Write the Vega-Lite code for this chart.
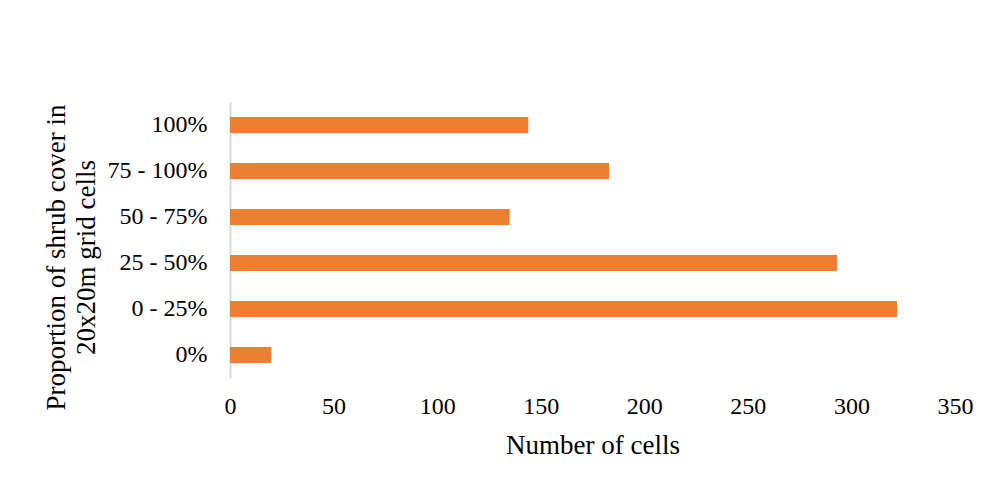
{
  "$schema": "https://vega.github.io/schema/vega-lite/v6.json",
  "autosize": "none",
  "width": 725,
  "height": 276,
  "padding": {"left": 230, "top": 102, "right": 33, "bottom": 108},
  "background": "white",
  "data": {
    "values": [
      {"cover": "100%", "cells": 144},
      {"cover": "75 - 100%", "cells": 183},
      {"cover": "50 - 75%", "cells": 135},
      {"cover": "25 - 50%", "cells": 293},
      {"cover": "0 - 25%", "cells": 322},
      {"cover": "0%", "cells": 20}
    ]
  },
  "mark": {"type": "bar", "color": "#ED7D31"},
  "encoding": {
    "y": {
      "field": "cover",
      "type": "nominal",
      "sort": null,
      "scale": {"paddingInner": 0.65, "paddingOuter": 0.325},
      "axis": {
        "title": ["Proportion of shrub cover in", "20x20m grid cells"],
        "titleFont": "Liberation Serif",
        "titleFontSize": 27,
        "titleFontWeight": "normal",
        "titleColor": "#000000",
        "titleX": -160,
        "titleY": 155,
        "titleAngle": -90,
        "titleAlign": "center",
        "titleBaseline": "bottom",
        "titleLineHeight": 30,
        "labelFont": "Liberation Serif",
        "labelFontSize": 24,
        "labelColor": "#000000",
        "labelPadding": 23,
        "ticks": false,
        "domainColor": "#d9d9d9",
        "domainWidth": 2,
        "grid": false
      }
    },
    "x": {
      "field": "cells",
      "type": "quantitative",
      "scale": {"domain": [0, 350], "nice": false},
      "axis": {
        "title": "Number of cells",
        "values": [0, 50, 100, 150, 200, 250, 300, 350],
        "titleFont": "Liberation Serif",
        "titleFontSize": 27,
        "titleFontWeight": "normal",
        "titleColor": "#000000",
        "titleX": 362.5,
        "titleY": 54,
        "titleBaseline": "top",
        "labelFont": "Liberation Serif",
        "labelFontSize": 24,
        "labelColor": "#000000",
        "labelPadding": 16,
        "labelFlush": false,
        "ticks": false,
        "domain": false,
        "grid": false
      }
    }
  },
  "config": {"view": {"stroke": null}}
}
